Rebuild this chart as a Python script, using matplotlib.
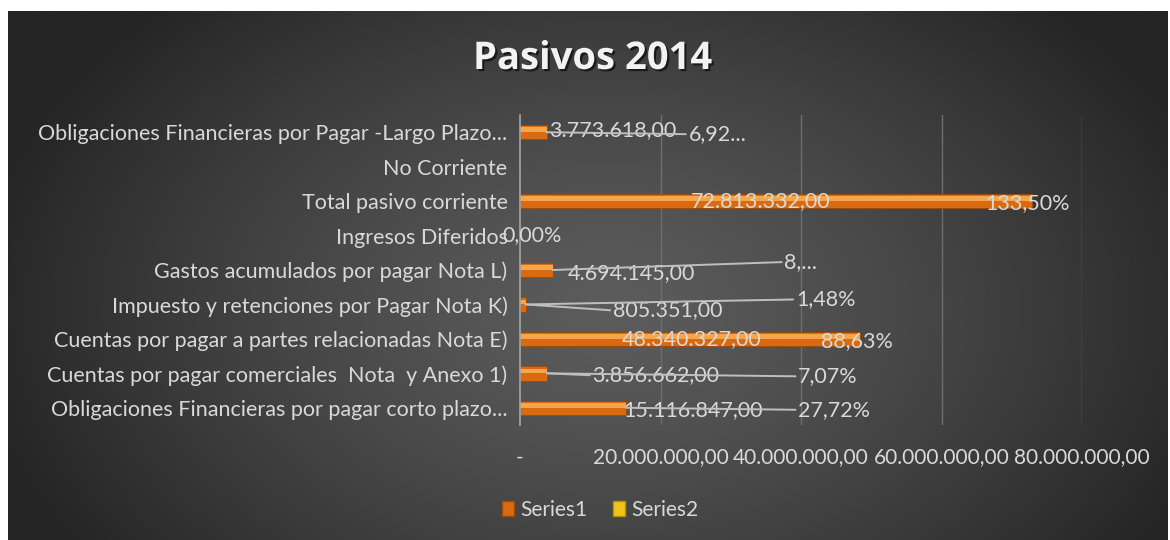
import numpy as np
import matplotlib
matplotlib.use("Agg")
from matplotlib import pyplot as plt
from matplotlib import patheffects as pe
from matplotlib.patches import Patch

# ======================
# Datos del gráfico
# ======================
categorias = [
    "Obligaciones Financieras por pagar corto plazo...",
    "Cuentas por pagar comerciales  Nota  y Anexo 1)",
    "Cuentas por pagar a partes relacionadas Nota E)",
    "Impuesto y retenciones por Pagar Nota K)",
    "Gastos acumulados por pagar Nota L)",
    "Ingresos Diferidos",
    "Total pasivo corriente",
    "No Corriente",
    "Obligaciones Financieras por Pagar -Largo Plazo...",
]
series1 = [15116847.00, 3856662.00, 48340327.00, 805351.00, 4694145.00,
           np.nan, 72813332.00, np.nan, 3773618.00]
series2 = [0.2772, 0.0707, 0.8863, 0.0148, 0.0861, 0.0, 1.3350, np.nan, 0.0692]
etiquetas_pct = ["27,72%", "7,07%", "88,63%", "1,48%", "8,...",
                 "0,00%", "133,50%", "", "6,92..."]
ticks_x = [0, 20e6, 40e6, 60e6, 80e6]
ticks_x_lbl = ["-", "20.000.000,00", "40.000.000,00", "60.000.000,00", "80.000.000,00"]

# posiciones de las etiquetas (desplazamiento en pixeles) y si llevan linea guia
off_valor = [(67, -2), (109, -2), (-168, 0), (142, -6), (78, -3), None, (-271, 0), None, (66, 2)]
guia_valor = [False, True, False, True, False, False, False, False, False]
off_pct = [(208, -2), (281, -3), (-3, -2), (300, 5), (248, 8), (12, 0), (-4, -2), None, (171, -2)]
guia_pct = [True, True, False, True, True, False, False, False, True]

GRIS_TXT = "#D9D9D9"
GRIS_GUIA = "#BFBFBF"
plt.rcParams['font.family'] = ['Lato', 'DejaVu Sans']


def formato_es(v):
    s = f"{v:,.2f}"
    return s.replace(",", "X").replace(".", ",").replace("X", ".")


# ======================
# Figura y fondo degradado
# ======================
W, H = 1170, 540
fig = plt.figure(figsize=(W / 100, H / 100), dpi=100, facecolor="white")

fondo = fig.add_axes([8 / W, 0, 1160 / W, 529 / H])
fondo.set_axis_off()
gx, gy = np.meshgrid(np.linspace(0, 1160, 400), np.linspace(0, 529, 200))
r = np.sqrt(((gx - 600) / 640) ** 2 + ((gy - 300) / 430) ** 2)
t = np.clip(r, 0, 1) ** 1.3
c0 = np.array([0x5c, 0x5c, 0x5c]) / 255
c1 = np.array([0x25, 0x25, 0x25]) / 255
img = c0[None, None, :] * (1 - t[..., None]) + c1[None, None, :] * t[..., None]
fondo.imshow(img, aspect="auto", extent=(0, 1, 0, 1))
fondo.set_xlim(0, 1)
fondo.set_ylim(0, 1)

# ======================
# Barras
# ======================
ax = fig.add_axes([520 / W, 115 / H, 562 / W, 310 / H])
ax.patch.set_alpha(0)
y = np.arange(len(categorias))

ax.barh(y, series1, height=0.42, color="#D86B12", edgecolor="#9C4A0A", lw=0.6, zorder=3)
ax.barh(y + 0.07, series1, height=0.14, color="#F7A54A", lw=0, zorder=3.5)
ax.barh(y, series2, height=0.42, color="#F0C419", zorder=4)

ax.set_xlim(0, 80e6)
ax.set_ylim(-0.5, len(categorias) - 0.5)
ax.set_xticks(ticks_x, ticks_x_lbl)
ax.set_yticks(y, categorias)
ax.tick_params(axis="x", length=0, pad=16, labelsize=15, colors=GRIS_TXT)
ax.tick_params(axis="y", length=0, pad=9, labelsize=15.5, colors=GRIS_TXT)
ax.grid(axis="x", color="#6E6E6E", lw=1, zorder=0)
ax.xaxis.get_gridlines()[0].set_visible(False)
for lado in ["top", "right", "bottom"]:
    ax.spines[lado].set_visible(False)
ax.spines["left"].set_color("#A6A6A6")
ax.spines["left"].set_linewidth(1.2)
ax.spines["left"].set_zorder(5)

# etiquetas de datos
for i in range(len(categorias)):
    v = series1[i]
    if off_valor[i] is not None and not np.isnan(v):
        ax.annotate(formato_es(v), xy=(v, i), xytext=off_valor[i], textcoords="offset pixels",
                    ha="center", va="center", fontsize=15.5, color=GRIS_TXT, zorder=6,
                    arrowprops=dict(arrowstyle="-", color=GRIS_GUIA, lw=1.4, shrinkA=0, shrinkB=0,
                                    relpos=(0, 0.5)) if guia_valor[i] else None)
    if off_pct[i] is not None:
        ancla = 0 if np.isnan(v) else v
        ax.annotate(etiquetas_pct[i], xy=(ancla, i), xytext=off_pct[i], textcoords="offset pixels",
                    ha="center", va="center", fontsize=15.5, color=GRIS_TXT, zorder=6,
                    arrowprops=dict(arrowstyle="-", color=GRIS_GUIA, lw=1.4, shrinkA=0, shrinkB=0,
                                    relpos=(0, 0.5)) if guia_pct[i] else None)

# titulo y leyenda
fig.text(593 / W, 1 - 59 / H, "Pasivos 2014", ha="center", va="center", fontsize=27.5,
         fontweight="bold", color="#F2F2F2", family=["Open Sans", "DejaVu Sans"],
         path_effects=[pe.SimplePatchShadow(offset=(1.5, -1.5), shadow_rgbFace="black", alpha=0.6),
                       pe.Normal()])

manejadores = [Patch(facecolor="#D86B12", edgecolor="#9C4A0A", label="Series1"),
               Patch(facecolor="#F0C419", edgecolor="#B8920A", label="Series2")]
leg = fig.legend(handles=manejadores, loc="center", bbox_to_anchor=(600 / W, 1 - 510 / H),
                 ncol=2, frameon=False, fontsize=15, handlelength=0.6, handleheight=0.7,
                 handletextpad=0.3, columnspacing=1.2)
for txt in leg.get_texts():
    txt.set_color(GRIS_TXT)

fig.savefig("out.png", dpi=100, facecolor="white")
